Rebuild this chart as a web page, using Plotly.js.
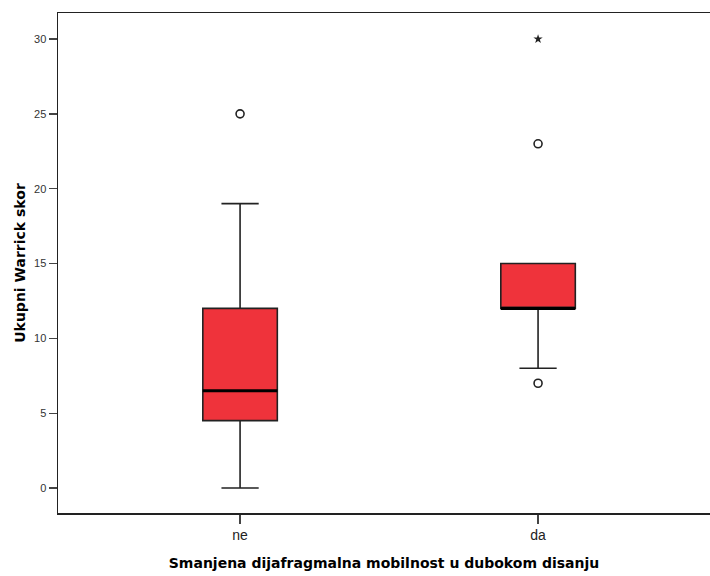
<!DOCTYPE html>
<html><head><meta charset="utf-8">
<script src="https://cdn.plot.ly/plotly-3.0.1.min.js"></script>
<style>html,body{margin:0;padding:0;background:#fff}#chart{width:710px;height:576px}</style>
</head><body><div id="chart"></div>
<script>
const categories = ['ne', 'da'];
const q1 = [4.5, 12];
const median = [6.5, 12];
const q3 = [12, 15];
const lowerWhisker = [0, 8];
const upperWhisker = [19, 15];
// outliers (circles) and extremes (stars)
const outlierCat = ['ne', 'da', 'da'];
const outlierVal = [25, 23, 7];
const extremeCat = ['da'];
const extremeVal = [30];
const yTicks = [0, 5, 10, 15, 20, 25, 30];

const pos = c => categories.indexOf(c);
const xPos = categories.map((c, i) => i);
const boxHalf = 0.125;

const traces = [
  {
    type: 'box', x: xPos, q1: q1, median: median, q3: q3,
    lowerfence: lowerWhisker, upperfence: upperWhisker,
    width: boxHalf * 2, whiskerwidth: 0.5,
    fillcolor: '#EF333B', line: {color: '#222', width: 1.6},
    boxpoints: false, hoverinfo: 'skip', showlegend: false
  },
  {
    type: 'scatter', mode: 'lines', showlegend: false, hoverinfo: 'skip',
    x: xPos.flatMap(i => [i - boxHalf, i + boxHalf, null]),
    y: median.flatMap(m => [m, m, null]),
    line: {color: '#000', width: 3}
  },
  {
    type: 'scatter', mode: 'markers', showlegend: false,
    x: outlierCat.map(pos), y: outlierVal,
    marker: {symbol: 'circle-open', size: 8, color: '#222', line: {width: 1.6, color: '#222'}}
  },
  {
    type: 'scatter', mode: 'markers', showlegend: false,
    x: extremeCat.map(pos), y: extremeVal,
    marker: {symbol: 'star', size: 7, color: '#222', line: {width: 0}}
  }
];

const layout = {
  width: 710, height: 576,
  margin: {l: 58, r: 0, t: 13, b: 63},
  paper_bgcolor: '#fff', plot_bgcolor: '#fff',
  font: {family: 'Liberation Sans, Arial, sans-serif', color: '#222'},
  xaxis: {
    range: [-0.611, 1.577], tickmode: 'array', tickvals: xPos, ticktext: categories,
    showgrid: false, zeroline: false, showline: true, linecolor: '#222', linewidth: 1.5,
    mirror: true, ticks: 'outside', ticklen: 9, tickcolor: '#444', tickwidth: 1.3,
    tickfont: {size: 14, color: '#222'},
    title: {text: 'Smanjena dijafragmalna mobilnost u dubokom disanju', font: {family: 'DejaVu Sans', size: 14, color: '#000', weight: 'bold'}, standoff: 16}
  },
  yaxis: {
    range: [-1.67, 31.74], tickmode: 'array', tickvals: yTicks,
    showgrid: false, zeroline: false, showline: true, linecolor: '#222', linewidth: 1.5,
    ticks: 'outside', ticklen: 8, tickcolor: '#444', tickwidth: 1.3,
    tickfont: {size: 11, color: '#333'},
    title: {text: 'Ukupni Warrick skor', font: {family: 'DejaVu Sans', size: 14, color: '#000', weight: 'bold'}, standoff: 5}
  }
};
Plotly.newPlot('chart', traces, layout, {displayModeBar: false, staticPlot: true});
</script></body></html>
